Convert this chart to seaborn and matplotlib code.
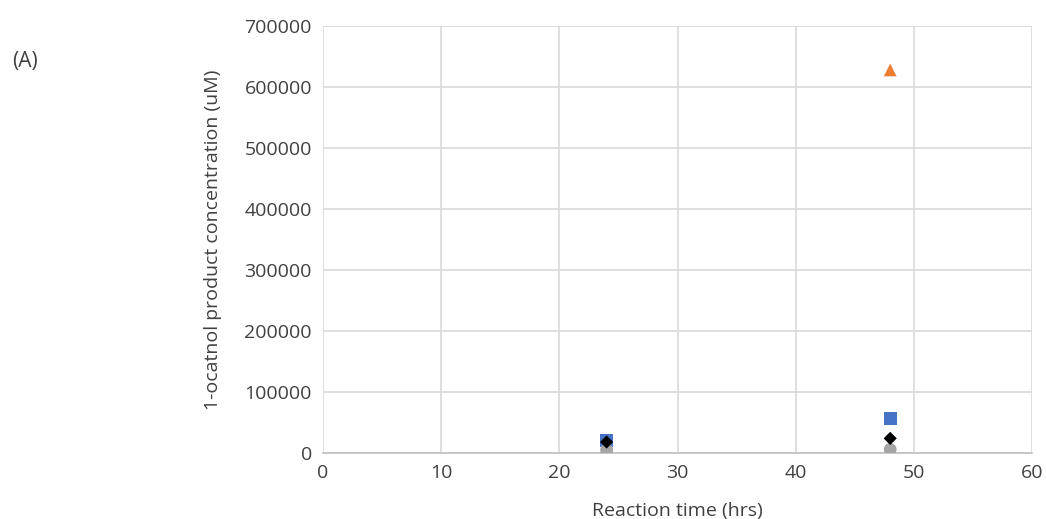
import matplotlib
matplotlib.use("Agg")
import matplotlib.pyplot as plt
import seaborn as sns
import pandas as pd

times = [24, 48]
series_names = ["Series A", "Series B", "Series C", "Series D"]
series_a = [20000, 57000]    # blue squares
series_b = [10000, 628000]   # orange triangles
series_c = [5000, 6000]      # gray circles
series_d = [18000, 24000]    # black diamonds

colors = ["#4472C4", "#ED7D31", "#A5A5A5", "#000000"]
markers = ["s", "^", "o", "D"]
sizes = [85, 85, 85, 45]

df = pd.DataFrame({
    "time": times * 4,
    "conc": series_a + series_b + series_c + series_d,
    "series": [s for s in series_names for _ in times],
})

sns.set_theme(style="white")
plt.rcParams["font.family"] = ["Open Sans", "DejaVu Sans"]

fig = plt.figure(figsize=(10.46, 5.19), dpi=100)
ax = fig.add_axes([323/1046, 1-453/519, (1032-323)/1046, (453-26)/519])

for name, c, m, s in zip(series_names, colors, markers, sizes):
    sub = df[df["series"] == name]
    sns.scatterplot(data=sub, x="time", y="conc", color=c, marker=m, s=s,
                    edgecolor="none", ax=ax, legend=False, zorder=3)

ax.set_xlim(0, 60)
ax.set_ylim(0, 700000)
ax.set_xticks(range(0, 61, 10))
ax.set_yticks(range(0, 700001, 100000))
ax.grid(True, color="#D9D9D9", linewidth=1.2)
ax.set_axisbelow(True)
for sp in ["top", "right", "left"]:
    ax.spines[sp].set_visible(False)
ax.spines["bottom"].set_color("#BFBFBF")
ax.spines["bottom"].set_linewidth(1.2)
ax.tick_params(axis="both", colors="#404040", labelsize=14, length=0, pad=8)
ax.set_xlabel("Reaction time (hrs)", fontsize=14, color="#404040", labelpad=14)
ax.set_ylabel("1-ocatnol product concentration (uM)", fontsize=14, color="#404040", labelpad=16)
fig.text(12/1046, 1-62/519, "(A)", fontsize=15, color="#404040", va="center")

fig.savefig("out.png", dpi=100)
